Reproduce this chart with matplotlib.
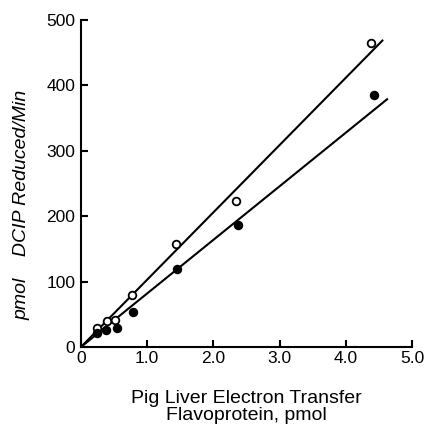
import numpy as np
import matplotlib as mpl
mpl.use('Agg')
from matplotlib import pyplot as plt

plt.rcParams['font.family'] = ['Liberation Sans', 'DejaVu Sans']

# %% Data
open_x = [0.25, 0.40, 0.52, 0.78, 1.44, 2.34, 4.38]
open_y = [29, 40, 42, 79, 157, 224, 465]
filled_x = [0.24, 0.38, 0.54, 0.79, 1.45, 2.37, 4.42]
filled_y = [21, 27, 29, 54, 120, 187, 385]
# fitted lines through origin (slope, x end)
open_slope, open_line_end = 103.0, 4.55
filled_slope, filled_line_end = 82.0, 4.62

xticks = [0, 1.0, 2.0, 3.0, 4.0, 5.0]
xticklabels = ['0', '1.0', '2.0', '3.0', '4.0', '5.0']
yticks = [0, 100, 200, 300, 400, 500]


# %% Plot
fig = plt.figure(figsize=(4.25, 4.26), dpi=100)
ax = fig.add_axes([0.19, 0.185, 0.78, 0.768])

for k, xend in [(open_slope, open_line_end),
                (filled_slope, filled_line_end)]:
    xl = np.array([0, xend])
    ax.plot(xl, k * xl, color='k', lw=1.5, zorder=2)

ax.plot(open_x, open_y, 'o', ms=5.5, mfc='white', mec='k', mew=1.3, zorder=3)
ax.plot(filled_x, filled_y, 'o', ms=5.8, mfc='k', mec='k', zorder=3)

ax.set_xlim(0, 5.0)
ax.set_ylim(0, 500)
ax.set_xticks(xticks)
ax.set_xticklabels(xticklabels)
ax.set_yticks(yticks)
for s in ['top', 'right']:
    ax.spines[s].set_visible(False)
for s in ['left', 'bottom']:
    ax.spines[s].set_linewidth(1.5)
ax.tick_params(direction='in', length=5, width=1.5, labelsize=12.5,
               colors='k')
ax.tick_params(axis='x', pad=3)
ax.tick_params(axis='y', pad=4)

ax.set_xlabel('Pig Liver Electron Transfer\nFlavoprotein, pmol',
              fontsize=14, linespacing=1.05)
ax.xaxis.set_label_coords(0.5, -0.13)
ax.xaxis.label.set_va('top')
ax.set_ylabel('pmol    DCIP Reduced/Min', fontsize=14, style='italic')
ax.yaxis.set_label_coords(-0.151, 0.434)

plt.savefig('out.png')
plt.close()
